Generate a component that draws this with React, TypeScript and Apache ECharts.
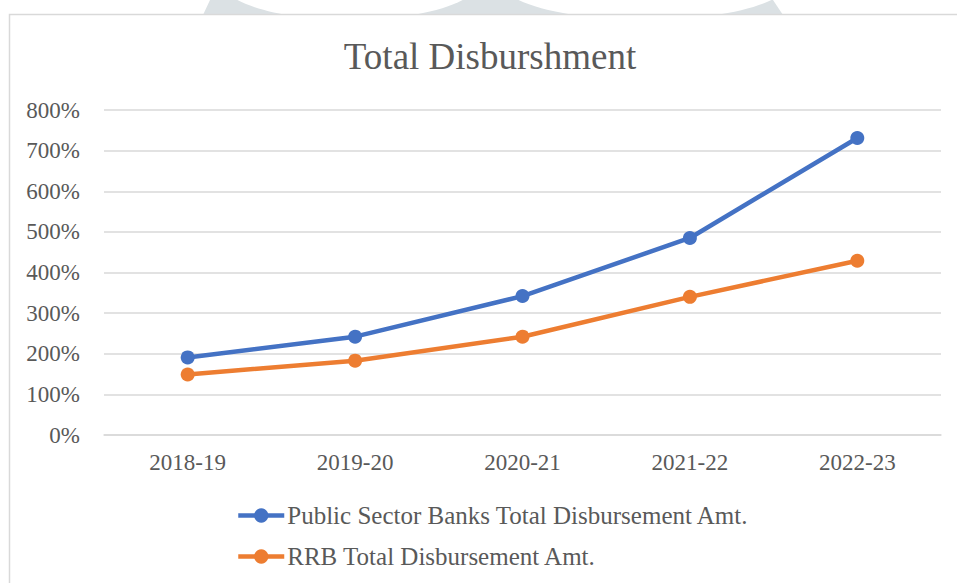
import React, { useEffect, useRef } from "react";
import * as echarts from "echarts";

const categories = ["2018-19", "2019-20", "2020-21", "2021-22", "2022-23"];
const publicSectorBanks = [191, 242, 342, 485, 731];
const rrb = [149, 183, 242, 340, 429];
const seriesNames = [
  "Public Sector Banks Total Disbursement Amt.",
  "RRB Total Disbursement Amt.",
];
const titleText = "Total Disburshment";

const FONT = "'Liberation Serif', 'Times New Roman', serif";
const TEXT_COLOR = "#595959";

export default function App() {
  const ref = useRef<HTMLDivElement>(null);

  useEffect(() => {
    if (!ref.current) return;
    const chart = echarts.init(ref.current, undefined, { renderer: "svg" });
    chart.setOption({
      animation: false,
      backgroundColor: "#ffffff",
      textStyle: { fontFamily: FONT },
      graphic: [
        {
          type: "polygon",
          z: -10,
          silent: true,
          shape: { points: [[210, 0], [773, 0], [783, 15], [203, 15]] },
          style: { fill: "#dbe1e4" },
        },
        {
          type: "ellipse",
          z: -9,
          silent: true,
          shape: { cx: 350, cy: -20, rx: 130, ry: 40 },
          style: { fill: "#ffffff" },
        },
        {
          type: "ellipse",
          z: -9,
          silent: true,
          shape: { cx: 645, cy: -20, rx: 146, ry: 40 },
          style: { fill: "#ffffff" },
        },
        {
          type: "rect",
          z: -8,
          silent: true,
          shape: { x: 9.5, y: 14.5, width: 1000, height: 700 },
          style: { fill: "#ffffff", stroke: "#d9d9d9", lineWidth: 1.5 },
        },
      ],
      title: {
        text: titleText,
        left: 490,
        textAlign: "center",
        top: 38,
        padding: 0,
        textStyle: {
          fontFamily: FONT,
          fontSize: 37,
          fontWeight: "normal",
          color: TEXT_COLOR,
        },
      },
      legend: {
        orient: "vertical",
        left: 236,
        top: 503,
        itemWidth: 46,
        itemHeight: 18,
        itemGap: 16,
        padding: 0,
        data: seriesNames,
        lineStyle: { width: 4.5 },
        textStyle: {
          fontFamily: FONT,
          fontSize: 25,
          lineHeight: 25,
          color: TEXT_COLOR,
          padding: [0, 0, 0, -2],
        },
      },
      grid: {
        left: 104,
        right: 16,
        top: 110,
        bottom: 148,
        containLabel: false,
      },
      xAxis: {
        type: "category",
        data: categories,
        boundaryGap: true,
        axisLine: { show: true, lineStyle: { color: "#d9d9d9", width: 1.5 } },
        axisTick: { show: false },
        axisLabel: {
          margin: 16,
          fontFamily: FONT,
          fontSize: 23,
          color: TEXT_COLOR,
        },
        splitLine: { show: false },
      },
      yAxis: {
        type: "value",
        min: 0,
        max: 800,
        interval: 100,
        axisLine: { show: false },
        axisTick: { show: false },
        axisLabel: {
          margin: 24,
          fontFamily: FONT,
          fontSize: 23,
          color: TEXT_COLOR,
          formatter: (v: number) => `${v}%`,
        },
        splitLine: { show: true, lineStyle: { color: "#d9d9d9", width: 1.5 } },
      },
      series: [
        {
          name: seriesNames[0],
          type: "line",
          data: publicSectorBanks,
          symbol: "circle",
          symbolSize: 14,
          lineStyle: { color: "#4472C4", width: 4.5 },
          itemStyle: { color: "#4472C4" },
          z: 3,
        },
        {
          name: seriesNames[1],
          type: "line",
          data: rrb,
          symbol: "circle",
          symbolSize: 14,
          lineStyle: { color: "#ED7D31", width: 4.5 },
          itemStyle: { color: "#ED7D31" },
          z: 2,
        },
      ],
    });
    return () => chart.dispose();
  }, []);

  return (
    <div
      ref={ref}
      style={{ position: "fixed", left: 0, top: 0, width: 957, height: 583 }}
    />
  );
}
